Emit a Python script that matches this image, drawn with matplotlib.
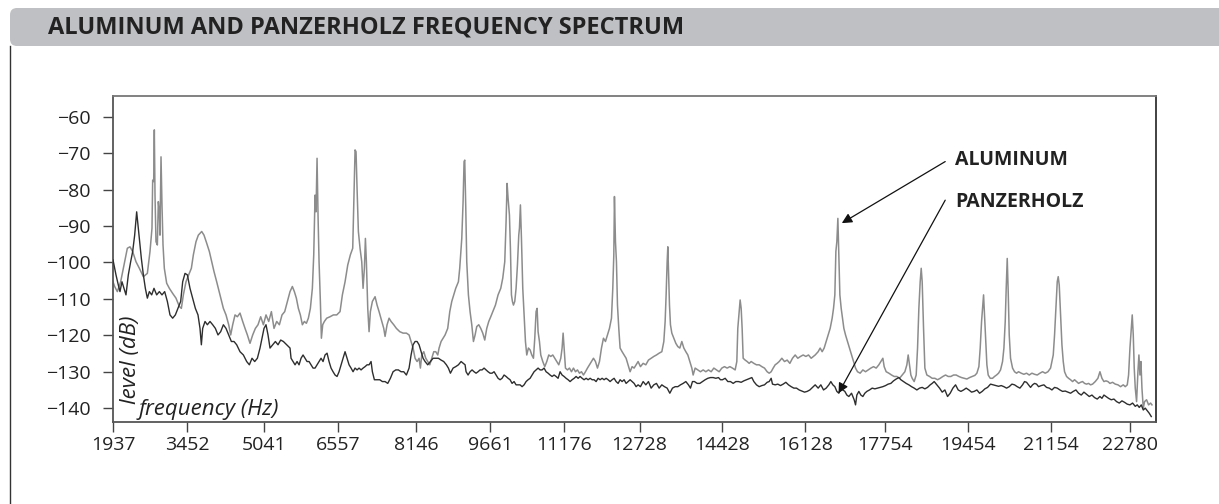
import matplotlib
matplotlib.use("Agg")
import matplotlib.pyplot as plt
from matplotlib.patches import FancyBboxPatch
from matplotlib.lines import Line2D

# (frequency Hz, level dB)
aluminum = [
    (1937, -105.3), (1971, -106.6), (2026, -108.0), (2094, -105.3), (2162, -100.7),
    (2231, -96.1), (2285, -95.7), (2340, -97.0), (2408, -99.8), (2477, -101.6),
    (2559, -103.9), (2641, -103.0), (2695, -97.0), (2736, -90.6), (2750, -77.4),
    (2771, -77.8), (2784, -63.6), (2798, -81.5), (2818, -94.3), (2846, -95.2),
    (2866, -83.3), (2887, -86.1), (2900, -92.5), (2921, -71.0), (2941, -84.2),
    (2962, -95.2), (2989, -101.6), (3037, -105.7), (3092, -107.1), (3160, -108.5),
    (3228, -109.8), (3297, -112.1), (3338, -112.6), (3379, -108.9), (3433, -105.3),
    (3488, -103.4), (3543, -101.6), (3584, -97.9), (3638, -94.3), (3686, -92.5),
    (3755, -91.5), (3802, -92.5), (3857, -94.7), (3912, -97.0), (3960, -99.8),
    (4007, -102.5), (4062, -105.3), (4130, -108.9), (4199, -112.6), (4253, -114.4),
    (4308, -117.1), (4349, -119.9), (4390, -117.1), (4438, -114.4), (4486, -114.9),
    (4540, -113.9), (4595, -116.2), (4643, -118.1), (4691, -119.9), (4745, -122.2),
    (4800, -119.9), (4855, -118.1), (4909, -117.1), (4964, -114.9), (5019, -117.1),
    (5073, -114.4), (5128, -116.2), (5183, -113.5), (5237, -118.1), (5292, -116.2),
    (5347, -117.1), (5401, -114.4), (5456, -113.5), (5511, -110.7), (5565, -108.0),
    (5613, -106.6), (5654, -108.0), (5695, -109.8), (5736, -112.6), (5777, -114.4),
    (5818, -117.1), (5859, -116.2), (5900, -116.7), (5941, -115.3), (5982, -112.6),
    (6023, -107.1), (6051, -97.9), (6078, -81.5), (6098, -86.1), (6119, -71.4),
    (6139, -87.0), (6160, -99.8), (6187, -110.7), (6208, -120.8), (6235, -117.1),
    (6269, -116.2), (6317, -115.3), (6385, -114.9), (6454, -114.4), (6522, -114.4),
    (6590, -113.5), (6638, -108.9), (6693, -105.3), (6748, -100.7), (6802, -97.9),
    (6850, -96.1), (6877, -81.5), (6898, -69.1), (6918, -69.6), (6939, -79.7),
    (6966, -91.5), (7000, -96.1), (7035, -99.8), (7062, -107.1), (7089, -101.6),
    (7110, -93.4), (7130, -99.8), (7158, -112.6), (7185, -119.0), (7212, -113.5),
    (7253, -110.7), (7308, -109.4), (7349, -111.7), (7390, -113.5), (7445, -116.2),
    (7486, -118.1), (7513, -120.3), (7554, -117.1), (7595, -115.3), (7636, -116.2),
    (7691, -117.1), (7745, -118.1), (7814, -119.0), (7882, -119.4), (7950, -119.4),
    (8005, -119.9), (8046, -121.7), (8087, -123.5), (8128, -126.3), (8169, -127.2),
    (8210, -126.3), (8237, -129.0), (8265, -125.4), (8306, -124.5), (8347, -126.3),
    (8387, -127.2), (8429, -128.1), (8470, -126.3), (8511, -124.5), (8552, -124.5),
    (8593, -125.4), (8620, -123.5), (8661, -121.7), (8702, -120.8), (8743, -119.9),
    (8797, -118.1), (8839, -113.5), (8880, -110.7), (8920, -108.9), (8961, -107.1),
    (9016, -105.3), (9043, -101.6), (9085, -93.4), (9112, -83.3), (9132, -72.3),
    (9146, -71.9), (9167, -85.1), (9187, -99.8), (9221, -108.9), (9255, -113.5),
    (9290, -117.1), (9324, -121.7), (9358, -119.9), (9392, -117.6), (9433, -117.1),
    (9474, -118.1), (9515, -119.4), (9556, -121.3), (9597, -118.1), (9638, -116.2),
    (9679, -114.9), (9720, -113.5), (9775, -111.7), (9829, -108.9), (9884, -107.1),
    (9925, -104.3), (9966, -99.8), (9993, -88.8), (10014, -78.3), (10034, -82.4),
    (10062, -87.0), (10082, -96.1), (10103, -108.9), (10123, -110.7), (10144, -111.7),
    (10171, -110.7), (10198, -107.1), (10226, -100.7), (10253, -92.5), (10267, -90.6),
    (10287, -84.2), (10308, -93.4), (10335, -107.1), (10362, -114.4), (10390, -121.7),
    (10417, -125.4), (10451, -123.5), (10485, -124.0), (10520, -125.4), (10554, -126.3),
    (10581, -120.8), (10608, -113.5), (10629, -112.6), (10649, -119.0), (10677, -121.7),
    (10704, -125.4), (10745, -127.2), (10786, -128.6), (10827, -127.2), (10868, -125.4),
    (10909, -125.8), (10950, -125.4), (10991, -126.3), (11032, -127.2), (11073, -128.1),
    (11114, -126.3), (11141, -123.5), (11162, -119.4), (11182, -123.5), (11210, -129.0),
    (11251, -129.5), (11292, -129.0), (11333, -130.0), (11374, -129.0), (11415, -130.0),
    (11456, -129.5), (11497, -130.4), (11538, -130.0), (11579, -130.9), (11620, -130.0),
    (11661, -129.0), (11702, -128.1), (11743, -127.2), (11784, -126.3), (11825, -127.2),
    (11866, -129.0), (11907, -127.2), (11948, -123.5), (11989, -120.8), (12030, -121.7),
    (12071, -119.9), (12112, -118.1), (12153, -115.3), (12180, -107.1), (12201, -97.9),
    (12214, -81.9), (12235, -94.3), (12255, -99.8), (12276, -111.7), (12303, -118.1),
    (12330, -123.5), (12371, -124.5), (12412, -125.4), (12453, -126.3), (12494, -128.1),
    (12535, -130.0), (12576, -128.6), (12617, -129.0), (12658, -128.1), (12699, -127.2),
    (12747, -128.6), (12802, -127.7), (12857, -128.1), (12911, -126.8), (12966, -126.3),
    (13021, -125.8), (13075, -125.4), (13130, -124.9), (13185, -124.5), (13226, -121.7),
    (13253, -116.2), (13273, -108.9), (13294, -99.8), (13308, -95.7), (13321, -101.6),
    (13342, -111.7), (13362, -117.1), (13390, -119.4), (13431, -120.8), (13472, -122.2),
    (13513, -123.1), (13554, -123.5), (13595, -121.7), (13636, -123.5), (13677, -124.5),
    (13718, -125.4), (13759, -127.2), (13800, -129.0), (13827, -130.9), (13868, -129.0),
    (13923, -129.5), (13977, -130.0), (14032, -129.5), (14087, -130.0), (14141, -129.5),
    (14196, -130.0), (14251, -129.0), (14305, -129.5), (14360, -130.0), (14415, -129.0),
    (14469, -128.6), (14524, -129.0), (14579, -128.6), (14633, -129.0), (14688, -129.5),
    (14722, -127.2), (14742, -118.1), (14770, -113.5), (14790, -110.3), (14811, -112.6),
    (14831, -118.1), (14852, -126.3), (14893, -126.8), (14934, -127.2), (14975, -127.7),
    (15016, -127.2), (15071, -127.7), (15125, -128.1), (15180, -128.1), (15235, -128.6),
    (15289, -129.0), (15344, -130.0), (15385, -130.4), (15426, -130.0), (15467, -129.0),
    (15508, -128.1), (15549, -127.7), (15590, -127.2), (15645, -126.3), (15699, -127.2),
    (15754, -126.8), (15809, -127.7), (15863, -126.3), (15918, -125.4), (15972, -126.3),
    (16027, -125.8), (16082, -125.4), (16137, -125.8), (16191, -125.4), (16246, -126.3),
    (16328, -125.4), (16389, -124.5), (16430, -123.5), (16471, -124.5), (16512, -123.5),
    (16553, -121.7), (16594, -119.9), (16635, -118.1), (16676, -115.3), (16704, -112.6),
    (16731, -108.9), (16752, -97.0), (16772, -94.3), (16793, -87.9), (16813, -97.9),
    (16834, -108.9), (16861, -112.6), (16888, -115.3), (16916, -118.1), (16950, -119.9),
    (16991, -121.7), (17032, -123.5), (17073, -125.4), (17114, -127.2), (17155, -129.0),
    (17196, -130.0), (17250, -130.4), (17305, -129.5), (17360, -130.0), (17414, -129.5),
    (17469, -129.0), (17524, -128.6), (17578, -129.0), (17633, -128.1), (17674, -127.2),
    (17715, -126.3), (17742, -128.6), (17783, -130.0), (17838, -130.4), (17893, -130.9),
    (17947, -131.3), (18002, -131.3), (18057, -131.8), (18111, -130.9), (18166, -130.0),
    (18207, -128.1), (18234, -125.4), (18262, -128.1), (18289, -130.9), (18316, -131.8),
    (18357, -132.7), (18398, -130.9), (18426, -123.5), (18453, -112.6), (18480, -105.3),
    (18501, -101.6), (18521, -105.3), (18549, -118.1), (18576, -129.0), (18617, -130.9),
    (18672, -131.3), (18726, -131.8), (18781, -131.8), (18836, -132.2), (18890, -131.8),
    (18945, -131.3), (19000, -130.9), (19054, -131.3), (19109, -131.3), (19164, -130.9),
    (19218, -130.9), (19273, -131.3), (19328, -131.6), (19382, -131.8), (19437, -132.0),
    (19492, -131.6), (19546, -131.3), (19601, -131.0), (19642, -130.4), (19683, -128.6),
    (19710, -123.5), (19738, -116.2), (19758, -112.6), (19779, -108.9), (19799, -114.4),
    (19820, -119.9), (19847, -128.1), (19874, -130.9), (19915, -131.8), (19963, -131.8),
    (20004, -131.3), (20045, -130.9), (20086, -130.4), (20127, -129.5), (20168, -127.2),
    (20196, -123.5), (20223, -116.2), (20243, -107.1), (20264, -98.9), (20284, -108.0),
    (20305, -119.9), (20332, -126.3), (20373, -129.0), (20414, -130.0), (20455, -130.4),
    (20496, -130.0), (20551, -130.4), (20606, -130.7), (20660, -130.4), (20715, -130.9),
    (20770, -130.4), (20824, -130.7), (20879, -130.9), (20934, -130.4), (20988, -130.0),
    (21043, -130.4), (21098, -130.0), (21152, -129.0), (21207, -125.4), (21234, -119.9),
    (21262, -112.6), (21289, -105.3), (21309, -103.9), (21330, -106.2), (21357, -114.4),
    (21385, -122.6), (21412, -127.2), (21439, -130.0), (21480, -131.3), (21521, -131.8),
    (21562, -132.2), (21603, -132.7), (21644, -132.2), (21685, -132.7), (21726, -133.2),
    (21767, -132.9), (21808, -132.7), (21849, -133.2), (21890, -133.4), (21931, -133.2),
    (21972, -133.6), (22013, -133.4), (22068, -132.7), (22122, -131.8), (22164, -130.0),
    (22205, -131.8), (22246, -132.7), (22287, -132.5), (22328, -132.7), (22369, -133.2),
    (22423, -132.9), (22478, -133.4), (22533, -133.6), (22587, -134.1), (22642, -133.6),
    (22683, -134.1), (22724, -133.6), (22751, -130.9), (22779, -123.5), (22806, -118.1),
    (22826, -114.4), (22847, -119.9), (22867, -129.0), (22888, -134.5), (22915, -138.2),
    (22943, -129.9), (22963, -125.4), (22984, -130.9), (23004, -127.2), (23025, -134.5),
    (23052, -140.0), (23079, -138.2), (23120, -137.7), (23161, -139.1), (23202, -138.6),
    (23230, -139.1),
]

panzerholz = [
    (1937, -99.3), (1998, -103.4), (2046, -106.2), (2080, -108.0), (2121, -105.3),
    (2162, -107.1), (2203, -108.9), (2251, -103.4), (2299, -99.8), (2340, -97.0),
    (2381, -92.5), (2422, -86.1), (2449, -89.7), (2477, -93.4), (2518, -98.9),
    (2559, -103.4), (2600, -107.1), (2641, -109.8), (2682, -108.0), (2730, -108.9),
    (2777, -107.1), (2832, -108.9), (2887, -108.0), (2941, -108.9), (2996, -108.0),
    (3051, -110.7), (3105, -114.4), (3160, -115.3), (3215, -114.4), (3269, -112.6),
    (3324, -110.7), (3365, -105.3), (3413, -103.0), (3461, -103.4), (3515, -107.1),
    (3570, -109.8), (3625, -112.6), (3679, -114.4), (3720, -118.1), (3748, -122.6),
    (3775, -118.1), (3823, -116.2), (3871, -117.1), (3925, -116.2), (3980, -117.1),
    (4035, -118.1), (4089, -119.9), (4144, -119.0), (4199, -117.1), (4253, -118.1),
    (4308, -119.9), (4363, -121.7), (4417, -121.7), (4472, -122.6), (4540, -124.5),
    (4609, -125.4), (4677, -127.2), (4732, -128.1), (4786, -126.3), (4841, -127.2),
    (4896, -126.3), (4950, -123.5), (4991, -120.8), (5032, -118.1), (5073, -117.1),
    (5114, -119.9), (5155, -123.5), (5210, -122.6), (5265, -121.7), (5319, -122.6),
    (5374, -121.3), (5429, -121.7), (5497, -122.6), (5565, -123.5), (5586, -126.3),
    (5627, -127.2), (5668, -128.1), (5709, -127.2), (5750, -128.1), (5791, -126.3),
    (5832, -125.4), (5873, -126.3), (5914, -127.2), (5955, -127.2), (5996, -128.1),
    (6037, -129.0), (6078, -129.0), (6119, -128.1), (6160, -127.2), (6201, -126.3),
    (6242, -127.2), (6283, -125.4), (6324, -124.9), (6365, -127.2), (6406, -129.0),
    (6447, -130.0), (6488, -130.9), (6529, -131.3), (6570, -130.0), (6611, -128.1),
    (6652, -126.3), (6693, -124.5), (6734, -126.3), (6775, -128.1), (6816, -129.0),
    (6857, -130.0), (6898, -129.0), (6939, -129.5), (6980, -129.0), (7021, -129.5),
    (7062, -129.0), (7103, -128.6), (7144, -128.1), (7185, -128.1), (7226, -127.2),
    (7253, -130.0), (7294, -132.2), (7349, -132.2), (7404, -132.2), (7458, -132.7),
    (7513, -132.7), (7568, -133.2), (7622, -131.8), (7677, -130.0), (7732, -129.5),
    (7786, -129.5), (7841, -130.0), (7896, -130.0), (7950, -130.9), (8005, -129.0),
    (8046, -125.4), (8087, -122.6), (8128, -121.7), (8169, -121.7), (8210, -122.6),
    (8251, -124.5), (8292, -126.3), (8333, -127.2), (8387, -128.1), (8442, -127.2),
    (8497, -126.3), (8552, -126.3), (8606, -126.3), (8661, -126.8), (8715, -127.2),
    (8770, -128.1), (8811, -129.0), (8852, -130.4), (8907, -129.0), (8961, -128.6),
    (9016, -128.1), (9071, -127.2), (9153, -128.1), (9173, -130.0), (9214, -130.9),
    (9255, -130.0), (9296, -129.5), (9337, -130.0), (9378, -130.4), (9419, -130.0),
    (9460, -129.5), (9501, -129.5), (9542, -129.0), (9583, -129.5), (9624, -130.0),
    (9665, -130.4), (9706, -130.4), (9747, -130.0), (9788, -130.9), (9829, -131.8),
    (9870, -132.2), (9911, -131.8), (9952, -130.9), (9993, -131.3), (10034, -131.8),
    (10075, -132.2), (10116, -133.2), (10157, -132.7), (10198, -133.6), (10239, -133.6),
    (10280, -133.6), (10321, -134.1), (10362, -133.6), (10403, -132.7), (10444, -132.2),
    (10485, -131.8), (10526, -130.9), (10567, -130.0), (10608, -129.5), (10649, -129.0),
    (10690, -129.5), (10731, -129.5), (10772, -129.0), (10813, -130.0), (10854, -130.4),
    (10895, -130.9), (10936, -131.3), (10977, -130.9), (11018, -131.3), (11059, -131.8),
    (11100, -130.0), (11141, -130.9), (11182, -131.3), (11223, -131.8), (11264, -132.2),
    (11305, -132.7), (11346, -132.2), (11388, -131.8), (11428, -131.3), (11470, -131.8),
    (11510, -131.3), (11552, -131.8), (11592, -132.2), (11634, -131.8), (11674, -132.2),
    (11716, -131.8), (11756, -132.2), (11797, -132.2), (11838, -132.7), (11879, -131.8),
    (11920, -132.2), (11961, -131.8), (12002, -132.2), (12043, -131.8), (12084, -132.2),
    (12125, -132.7), (12166, -132.2), (12207, -131.8), (12248, -132.7), (12289, -133.2),
    (12330, -132.2), (12371, -132.7), (12412, -132.2), (12453, -133.2), (12494, -132.7),
    (12535, -132.2), (12576, -132.7), (12617, -133.2), (12658, -134.1), (12699, -133.6),
    (12747, -134.1), (12802, -132.7), (12857, -133.6), (12911, -132.7), (12966, -134.5),
    (13021, -133.6), (13075, -133.2), (13130, -134.5), (13185, -133.6), (13239, -134.1),
    (13294, -134.5), (13349, -135.9), (13403, -134.5), (13458, -134.1), (13513, -134.1),
    (13567, -133.6), (13622, -133.2), (13677, -132.7), (13731, -133.6), (13772, -134.5),
    (13813, -132.7), (13854, -132.7), (13909, -133.2), (13964, -133.2), (14018, -132.7),
    (14073, -132.2), (14128, -131.8), (14182, -131.6), (14237, -131.6), (14292, -131.8),
    (14346, -131.6), (14387, -132.2), (14428, -132.2), (14483, -131.8), (14538, -132.7),
    (14592, -132.7), (14647, -133.2), (14702, -132.7), (14756, -132.7), (14811, -132.9),
    (14866, -132.5), (14920, -132.2), (14975, -131.9), (15030, -131.6), (15071, -132.7),
    (15125, -133.6), (15180, -134.1), (15235, -133.8), (15289, -133.6), (15344, -132.9),
    (15385, -132.7), (15426, -131.8), (15453, -133.4), (15508, -133.6), (15562, -133.4),
    (15617, -133.8), (15672, -133.4), (15727, -132.9), (15781, -133.6), (15836, -134.1),
    (15891, -134.5), (15945, -134.5), (16000, -135.0), (16055, -135.3), (16109, -135.6),
    (16164, -135.4), (16219, -135.0), (16273, -134.3), (16328, -133.6), (16389, -134.5),
    (16444, -133.6), (16499, -135.0), (16553, -134.5), (16608, -133.6), (16649, -132.7),
    (16690, -133.6), (16731, -134.1), (16772, -135.4), (16813, -135.9), (16854, -134.5),
    (16895, -135.0), (16936, -135.4), (16977, -136.4), (17018, -136.8), (17073, -135.9),
    (17127, -137.7), (17155, -139.1), (17182, -136.4), (17223, -135.4), (17264, -136.4),
    (17305, -136.8), (17346, -135.9), (17387, -135.4), (17442, -135.0), (17496, -134.5),
    (17551, -134.7), (17606, -134.5), (17660, -134.3), (17715, -134.1), (17770, -133.8),
    (17824, -133.4), (17879, -133.2), (17934, -132.5), (17988, -132.0), (18043, -131.6),
    (18084, -132.2), (18139, -132.7), (18193, -133.2), (18248, -133.6), (18303, -134.1),
    (18357, -134.5), (18412, -135.0), (18467, -134.5), (18521, -134.3), (18576, -134.7),
    (18631, -134.3), (18685, -133.6), (18726, -133.2), (18767, -132.7), (18822, -133.6),
    (18877, -134.5), (18931, -135.6), (18986, -135.0), (19041, -136.8), (19095, -135.9),
    (19150, -134.5), (19205, -133.6), (19259, -135.0), (19314, -135.4), (19369, -135.0),
    (19423, -134.5), (19478, -135.0), (19533, -135.6), (19587, -135.4), (19642, -135.0),
    (19697, -135.9), (19751, -135.4), (19806, -134.7), (19861, -134.3), (19922, -133.4),
    (19977, -133.6), (20032, -133.8), (20086, -134.0), (20141, -133.8), (20196, -134.1),
    (20250, -134.5), (20305, -134.1), (20360, -133.4), (20414, -133.6), (20469, -134.1),
    (20524, -134.5), (20578, -133.6), (20619, -132.7), (20660, -132.9), (20701, -133.6),
    (20742, -134.3), (20783, -133.6), (20824, -133.2), (20865, -133.4), (20906, -134.1),
    (20961, -133.8), (21016, -133.6), (21070, -134.3), (21125, -134.5), (21180, -135.0),
    (21234, -134.3), (21289, -134.5), (21344, -135.0), (21398, -135.4), (21453, -135.3),
    (21508, -135.6), (21562, -135.9), (21617, -135.4), (21672, -135.0), (21726, -135.9),
    (21781, -136.4), (21836, -135.6), (21890, -136.2), (21945, -136.8), (22000, -136.4),
    (22054, -137.1), (22109, -137.5), (22164, -136.8), (22205, -137.3), (22246, -136.4),
    (22287, -136.8), (22341, -137.3), (22396, -137.7), (22451, -137.5), (22505, -138.2),
    (22560, -138.6), (22615, -138.0), (22669, -138.4), (22724, -138.9), (22779, -139.1),
    (22833, -138.6), (22888, -139.5), (22929, -139.1), (22970, -139.8), (23011, -139.1),
    (23052, -140.5), (23093, -140.0), (23134, -140.7), (23175, -141.4), (23216, -142.3),
]

freq_ticks = [1937, 3452, 5041, 6557, 8146, 9661, 11176, 12728,
              14428, 16128, 17754, 19454, 21154, 22780]
level_ticks = [-60, -70, -80, -90, -100, -110, -120, -130, -140]

title = "ALUMINUM AND PANZERHOLZ FREQUENCY SPECTRUM"

alu_hz, alu_db = zip(*aluminum)
pz_hz, pz_db = zip(*panzerholz)

plt.rcParams['font.family'] = ['Open Sans', 'DejaVu Sans']

fig = plt.figure(figsize=(12.19, 5.04), dpi=100)

# title banner, left frame line
banner = FancyBboxPatch((0.10, 4.58), 12.5, 0.38,
                        boxstyle="round,pad=0,rounding_size=0.07",
                        transform=fig.dpi_scale_trans,
                        facecolor="#bfc0c3", edgecolor="none")
fig.patches.append(banner)
fig.text(0.48, 4.765, title, transform=fig.dpi_scale_trans,
         fontsize=17, fontweight="bold", color="#222222",
         ha="left", va="center")
fig.lines.append(Line2D([0.10, 0.10], [0.0, 4.58],
                        transform=fig.dpi_scale_trans,
                        color="#333333", linewidth=1.0))

ax = fig.add_axes([113 / 1219, 82 / 504, 1043 / 1219, 326 / 504])

ax.plot(alu_hz, alu_db, color="#8c8c8c", linewidth=1.1, zorder=2)
ax.plot(pz_hz, pz_db, color="#2e2e2e", linewidth=1.0, zorder=3)

ax.set_xlim(1937, 23313)
ax.set_ylim(-143.8, -54.3)
ax.set_xticks(freq_ticks)
ax.set_xticklabels([str(v) for v in freq_ticks])
ax.set_yticks(level_ticks)

ax.tick_params(axis="both", direction="out", length=7, width=1,
               colors="#444444", labelcolor="#222222", labelsize=14)
ax.tick_params(axis="y", pad=9)
ax.tick_params(axis="x", pad=3)

for side, col in [("left", "#555555"), ("bottom", "#555555"),
                  ("top", "#777777"), ("right", "#333333")]:
    ax.spines[side].set_color(col)
    ax.spines[side].set_linewidth(1.3)

ax.text(0.017, 0.055, "level (dB)", transform=ax.transAxes, rotation=90,
        fontsize=16, fontstyle="italic", color="#222222",
        ha="center", va="bottom")
ax.text(0.024, 0.037, "frequency (Hz)", transform=ax.transAxes,
        fontsize=16, fontstyle="italic", color="#222222",
        ha="left", va="center")

ax.annotate("", xy=(16874, -89.2), xytext=(18993, -72.3),
            arrowprops=dict(arrowstyle="-|>", color="#111111", lw=0.9,
                            mutation_scale=15, shrinkA=0, shrinkB=0))
ax.annotate("", xy=(16806, -135.9), xytext=(18993, -82.9),
            arrowprops=dict(arrowstyle="-|>", color="#111111", lw=0.9,
                            mutation_scale=15, shrinkA=0, shrinkB=0))
ax.text(19200, -71.8, "ALUMINUM", fontsize=14, fontweight="bold",
        color="#222222", ha="left", va="center")
ax.text(19200, -83.5, "PANZERHOLZ", fontsize=14, fontweight="bold",
        color="#222222", ha="left", va="center")

fig.savefig("out.png", dpi=100)
